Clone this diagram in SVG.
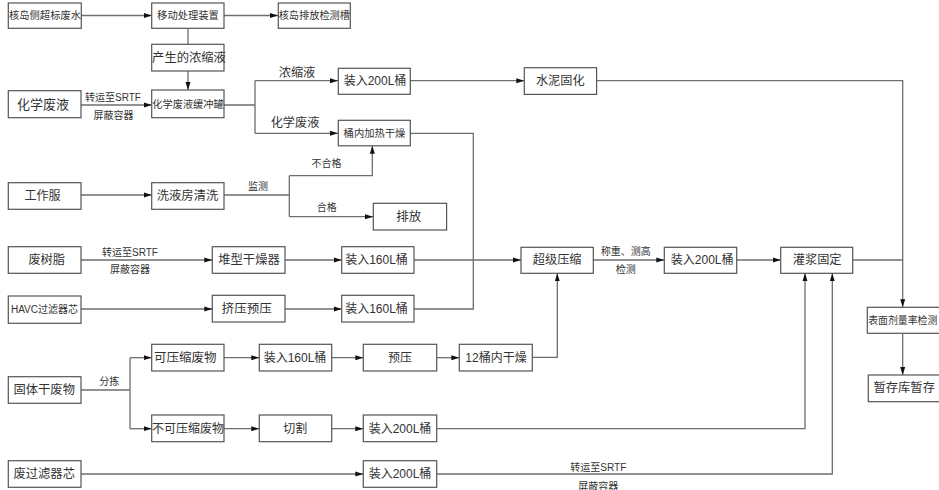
<svg xmlns="http://www.w3.org/2000/svg" width="939" height="490" viewBox="0 0 939 490">
<defs>
<style>
.box{fill:#fff;stroke:#555;stroke-width:1.2}
.t{font-family:"Liberation Sans","Noto Sans CJK SC",sans-serif;fill:#333;text-anchor:middle;dominant-baseline:central}
.l{fill:none;stroke:#6e6e6e;stroke-width:1.3}
.a{marker-end:url(#ah)}
</style>
<marker id="ah" markerUnits="userSpaceOnUse" markerWidth="9" markerHeight="6" refX="8" refY="3" orient="auto">
<path d="M0,0.5 L8,3 L0,5.5 Z" fill="#111"/>
</marker>
</defs>
<rect width="939" height="490" fill="#fff"/>

<g id="connectors">
<path class="l a" d="M81,15.5 H151.7"/>
<path class="l a" d="M224,15.5 H278"/>
<path class="l" d="M188,28 V44"/>
<path class="l a" d="M188,71 V90"/>
<path class="l a" d="M81,105 H151.7"/>
<path class="l" d="M224,105 H255 M255,80.7 V133.3"/>
<path class="l a" d="M255,80.7 H338"/>
<path class="l a" d="M255,133.3 H338"/>
<path class="l a" d="M410,80.7 H524.3"/>
<path class="l a" d="M596.7,80.7 H902.7 V307.3"/>
<path class="l" d="M410,133.3 H473.3 V309 H414"/>
<path class="l a" d="M81,195 H151.7"/>
<path class="l" d="M224,195 H289.3 M289.3,175.7 V216.7"/>
<path class="l a" d="M289.3,175.7 H372.3 V145.7"/>
<path class="l a" d="M289.3,216.7 H373"/>
<path class="l a" d="M81,260 H212.3"/>
<path class="l a" d="M285,260 H341.7"/>
<path class="l a" d="M414,260 H521"/>
<path class="l a" d="M81,309 H212.3"/>
<path class="l a" d="M285,309 H341.7"/>
<path class="l" d="M81,390 H130 M130,357.7 V428.7"/>
<path class="l a" d="M130,357.7 H151.7"/>
<path class="l a" d="M130,428.7 H151.7"/>
<path class="l a" d="M224,357.7 H259.3"/>
<path class="l a" d="M331.7,357.7 H363.3"/>
<path class="l a" d="M436.7,357.7 H459.3"/>
<path class="l a" d="M532.3,357.3 H557.3 V273.3"/>
<path class="l a" d="M224,428.7 H259.3"/>
<path class="l a" d="M331.7,428.7 H363.3"/>
<path class="l a" d="M436.7,428.7 H805 V273.3"/>
<path class="l a" d="M81,474 H363.3"/>
<path class="l a" d="M436.7,474 H832.3 V273.3"/>
<path class="l a" d="M593.3,260 H664.3"/>
<path class="l a" d="M736.7,260 H780.7"/>
<path class="l" d="M852.7,260 H902.7"/>
<path class="l a" d="M902.7,333.3 V375"/>
<g class="t" font-size="10">
<text x="113" y="97.7">转运至SRTF</text>
<text x="113.5" y="115.7">屏蔽容器</text>
<text x="130" y="252.3">转运至SRTF</text>
<text x="130" y="269.3">屏蔽容器</text>
<text x="258" y="186">监测</text>
<text x="326.5" y="163.5">不合格</text>
<text x="326.7" y="207.3">合格</text>
<text x="109.3" y="381.7">分拣</text>
<text x="625.7" y="251">称重、测高</text>
<text x="625.7" y="269.3">检测</text>
<text x="598.3" y="467.3">转运至SRTF</text>
<text x="598.3" y="486">屏蔽容器</text>
</g>
<g class="t" font-size="12.2">
<text x="297" y="73">浓缩液</text>
<text x="295" y="123">化学废液</text>
</g>
</g>

<g id="n1"><rect class="box" x="8.3" y="3" width="73" height="25.3"/><text class="t" x="45" y="15.7" font-size="10.3">核岛侧超标废水</text></g>
<g id="n2"><rect class="box" x="151.7" y="3" width="72.3" height="25.3"/><text class="t" x="188" y="15.7" font-size="10.3">移动处理装置</text></g>
<g id="n3"><rect class="box" x="278.3" y="3" width="72" height="25.3"/><text class="t" x="314.3" y="15.7" font-size="10.2">核岛排放检测槽</text></g>
<g id="n4"><rect class="box" x="151.7" y="44.3" width="72.3" height="26.7"/><text class="t" x="189" y="57.7" font-size="12.3">产生的浓缩液</text></g>
<g id="n5"><rect class="box" x="8.3" y="90.7" width="72.7" height="27"/><text class="t" x="43" y="104.5" font-size="13">化学废液</text></g>
<g id="n6"><rect class="box" x="151.7" y="90" width="72.3" height="27.7"/><text class="t" x="188" y="104" font-size="10.2">化学废液缓冲罐</text></g>
<g id="n7"><rect class="box" x="338.3" y="68.3" width="72" height="26"/><text class="t" x="375" y="81.3" font-size="12">装入200L桶</text></g>
<g id="n8"><rect class="box" x="524.3" y="67.7" width="72.3" height="26.7"/><text class="t" x="560.3" y="81" font-size="12.2">水泥固化</text></g>
<g id="n9"><rect class="box" x="338.3" y="120.3" width="72" height="25.5"/><text class="t" x="374.5" y="133" font-size="10.3">桶内加热干燥</text></g>
<g id="n10"><rect class="box" x="8.3" y="182.7" width="72.7" height="26.6"/><text class="t" x="42.5" y="196" font-size="12">工作服</text></g>
<g id="n11"><rect class="box" x="151.7" y="182.7" width="72.3" height="26.6"/><text class="t" x="187.5" y="196" font-size="12.3">洗液房清洗</text></g>
<g id="n12"><rect class="box" x="373.3" y="203.3" width="73.3" height="26.7"/><text class="t" x="408.7" y="216.7" font-size="12.5">排放</text></g>
<g id="n13"><rect class="box" x="8.3" y="246.7" width="72.7" height="26.6"/><text class="t" x="46.7" y="260" font-size="12.2">废树脂</text></g>
<g id="n14"><rect class="box" x="212.3" y="246.7" width="72.7" height="26.6"/><text class="t" x="249" y="260" font-size="12.3">堆型干燥器</text></g>
<g id="n15"><rect class="box" x="341.7" y="246.7" width="72.3" height="26.6"/><text class="t" x="376.5" y="260" font-size="12">装入160L桶</text></g>
<g id="n16"><rect class="box" x="521" y="247.3" width="72.3" height="26"/><text class="t" x="557.2" y="260.3" font-size="12.2">超级压缩</text></g>
<g id="n17"><rect class="box" x="664.3" y="247.3" width="72.4" height="26"/><text class="t" x="702.2" y="260.3" font-size="12">装入200L桶</text></g>
<g id="n18"><rect class="box" x="780.7" y="247.3" width="72" height="26"/><text class="t" x="817.2" y="260.3" font-size="12.2">灌浆固定</text></g>
<g id="n19"><rect class="box" x="8.3" y="296" width="72.7" height="27.3"/><text class="t" x="44.5" y="309.5" font-size="10">HAVC过滤器芯</text></g>
<g id="n20"><rect class="box" x="212.3" y="295.3" width="72.7" height="26.7"/><text class="t" x="246.7" y="308.7" font-size="12.5">挤压预压</text></g>
<g id="n21"><rect class="box" x="341.7" y="295.3" width="72.3" height="26.7"/><text class="t" x="376.5" y="308.7" font-size="12">装入160L桶</text></g>
<g id="n22"><rect class="box" x="867.3" y="307.3" width="73" height="26"/><text class="t" x="868.2" y="320.3" font-size="9.9" style="text-anchor:start">表面剂量率检测</text></g>
<g id="n23"><rect class="box" x="868.3" y="375" width="72" height="26.7"/><text class="t" x="904.2" y="388.3" font-size="12.3">暂存库暂存</text></g>
<g id="n24"><rect class="box" x="8.3" y="376.7" width="72.7" height="26.6"/><text class="t" x="44.2" y="390" font-size="12.3">固体干废物</text></g>
<g id="n25"><rect class="box" x="151.7" y="344.3" width="72.3" height="26.7"/><text class="t" x="185.3" y="357.7" font-size="12.5">可压缩废物</text></g>
<g id="n26"><rect class="box" x="259.3" y="344.3" width="72.4" height="26.7"/><text class="t" x="295" y="357.7" font-size="12">装入160L桶</text></g>
<g id="n27"><rect class="box" x="363.3" y="344.3" width="73.4" height="26.7"/><text class="t" x="400" y="357.7" font-size="12">预压</text></g>
<g id="n28"><rect class="box" x="459.3" y="344.3" width="73" height="26.7"/><text class="t" x="496" y="357.7" font-size="12">12桶内干燥</text></g>
<g id="n29"><rect class="box" x="151.7" y="415" width="72.3" height="26.7"/><text class="t" x="188" y="428.5" font-size="12">不可压缩废物</text></g>
<g id="n30"><rect class="box" x="259.3" y="415" width="72.4" height="26.7"/><text class="t" x="295.3" y="428.5" font-size="12">切割</text></g>
<g id="n31"><rect class="box" x="363.3" y="415" width="73.4" height="26.7"/><text class="t" x="400" y="428.5" font-size="12">装入200L桶</text></g>
<g id="n32"><rect class="box" x="8.3" y="460.7" width="72.7" height="26.6"/><text class="t" x="44.2" y="474" font-size="12.3">废过滤器芯</text></g>
<g id="n33"><rect class="box" x="363.3" y="460.7" width="73.4" height="26.6"/><text class="t" x="400" y="474" font-size="12">装入200L桶</text></g>
</svg>
